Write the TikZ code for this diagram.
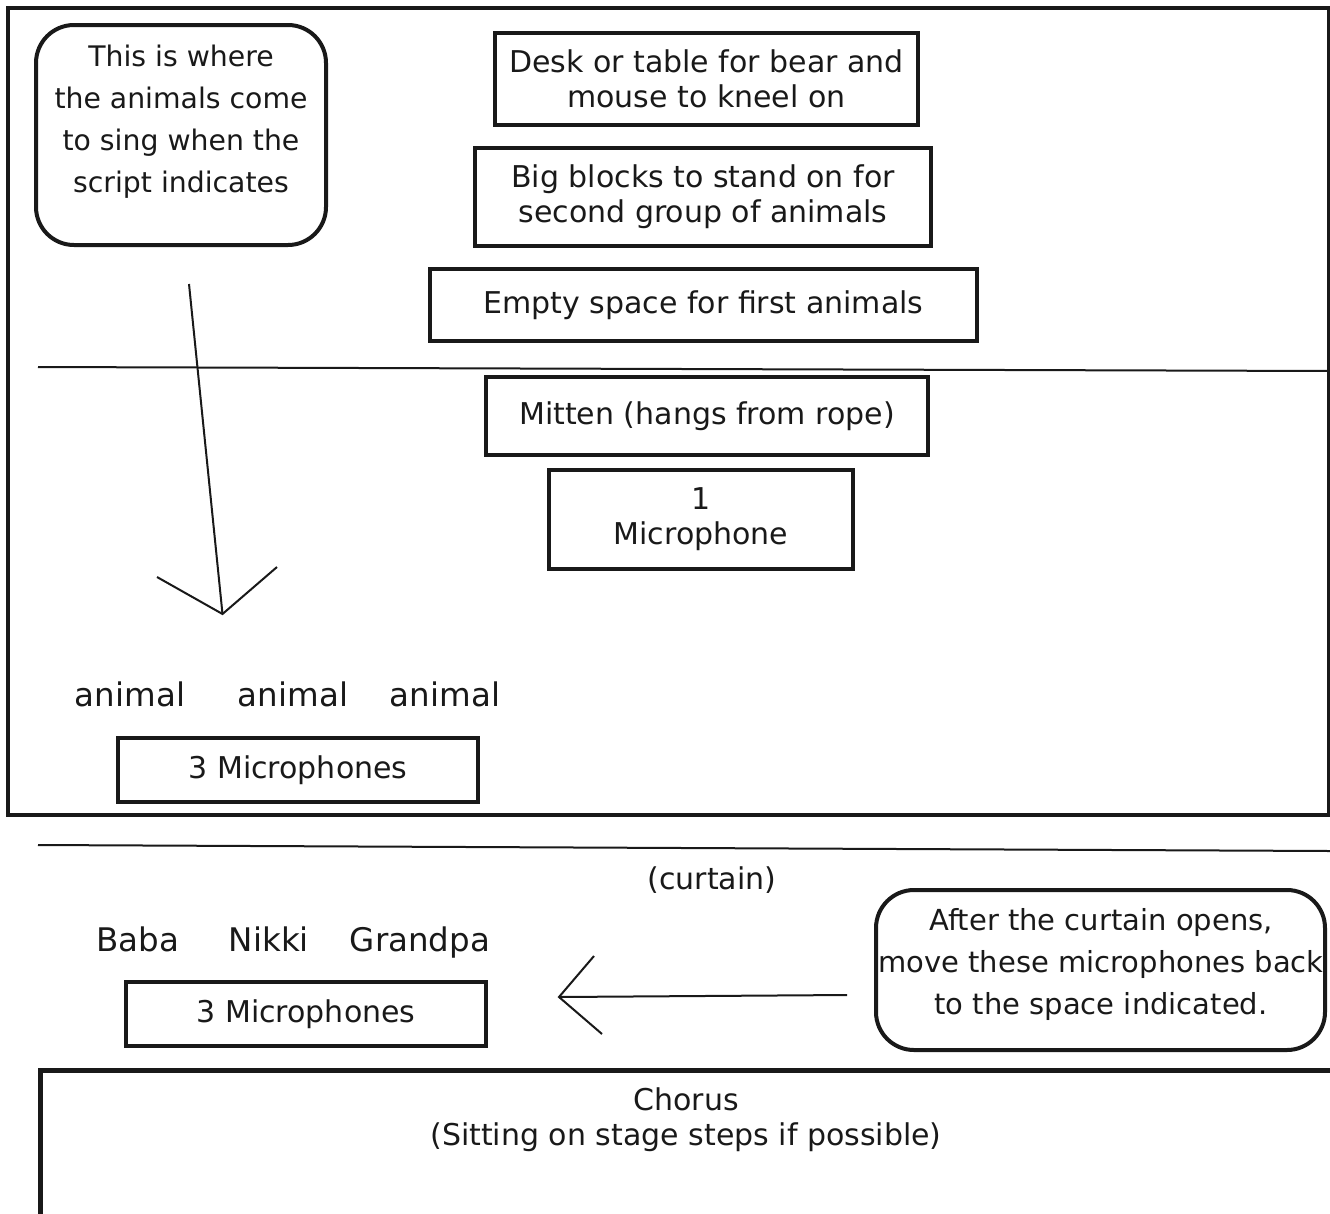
\documentclass[tikz,border=0pt]{standalone}
\usepackage{fontspec}
\setmainfont{DejaVu Sans}
\begin{document}
\begin{tikzpicture}[x=1pt,y=-1pt,
  every node/.style={font=\fontsize{30}{35}\selectfont, text=black!90},
  sqbox/.style={draw=black!90, line width=4pt, inner sep=0pt, align=center},
  rbox/.style={draw=black!90, line width=4pt, rounded corners=38pt, inner sep=0pt},
  thin/.style={draw=black!90, line width=2pt},
  lbl/.style={inner sep=0pt, align=center},
  wholbl/.style={inner sep=0pt, anchor=base, font=\fontsize{32.5}{36}\selectfont}]
\useasboundingbox (0,0) rectangle (1330,1213);
\clip (0,0) rectangle (1330,1213);
% outer stage frame
\draw[draw=black!90, line width=4pt] (8,8) rectangle (1329,815);
% boxes
\node[rbox, minimum width=290pt, minimum height=220pt] (note1) at (181,135) {};
\node[lbl, font=\fontsize{28.3}{42}\selectfont] (note1t) at (181,122) {This is where\\the animals come\\to sing when the\\script indicates};
\node[sqbox, minimum width=423pt, minimum height=92pt] (desk) at (706.5,79) {Desk or table for bear and\\mouse to kneel on};
\node[sqbox, minimum width=456pt, minimum height=98pt] (blocks) at (703,197) {Big blocks to stand on for\\second group of animals};
\node[sqbox, minimum width=547pt, minimum height=72pt] (empty) at (703.5,305) {Empty space for first animals};
\node[sqbox, minimum width=442pt, minimum height=78pt] (mitten) at (707,416) {Mitten (hangs from rope)};
\node[sqbox, minimum width=304pt, minimum height=99pt] (mic1) at (701,519.5) {1\\Microphone};
\node[wholbl] (an1) at (130,706) {animal};
\node[wholbl] (an2) at (293,706) {animal};
\node[wholbl] (an3) at (445,706) {animal};
\node[sqbox, minimum width=360pt, minimum height=64pt] (mics3a) at (298,770) {3 Microphones};
% dividing lines
\coordinate (l1a) at (38,367);
\coordinate (l1b) at (1330,371);
\draw[thin] (l1a) -- (l1b);
\coordinate (l2a) at (38,845);
\coordinate (l2b) at (1330,851);
\draw[thin] (l2a) -- (l2b);
% down arrow
\coordinate (d0) at (189,284);
\coordinate (d1) at (222.5,614);
\coordinate (dl) at (157,577);
\coordinate (dr) at (277,567);
\draw[thin] (d0) -- (d1);
\draw[thin] (dl) -- (d1) -- (dr);
% front of stage
\node[lbl] (curtain) at (712,880) {(curtain)};
\node[wholbl] (baba) at (138,951) {Baba};
\node[wholbl] (nikki) at (269,951) {Nikki};
\node[wholbl] (grandpa) at (420,951) {Grandpa};
\node[sqbox, minimum width=360pt, minimum height=64pt] (mics3b) at (306,1014) {3 Microphones};
\node[rbox, minimum width=449pt, minimum height=160pt] (note2) at (1100.5,970) {};
\node[lbl, font=\fontsize{29}{42}\selectfont] (note2t) at (1101,964) {After the curtain opens,\\move these microphones back\\to the space indicated.};
% left arrow
\coordinate (h0) at (847,995);
\coordinate (h1) at (559,997);
\coordinate (hu) at (594,956);
\coordinate (hd) at (602,1034);
\draw[thin] (h0) -- (h1);
\draw[thin] (hu) -- (h1) -- (hd);
% chorus
\draw[draw=black!90, line width=5pt] (40,1300) -- (40,1070) -- (1400,1070);
\node[lbl] (chorus) at (686,1120) {Chorus\\(Sitting on stage steps if possible)};
\end{tikzpicture}
\end{document}
